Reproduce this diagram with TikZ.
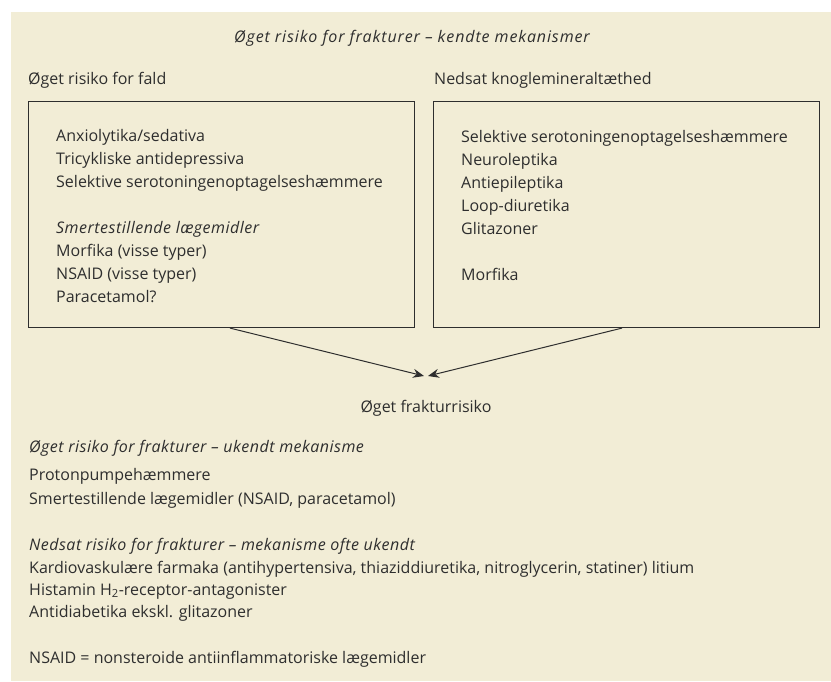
\documentclass[tikz,border=0pt]{standalone}
\usepackage{fontspec}
\setmainfont{Open Sans}
\usetikzlibrary{arrows.meta}
\definecolor{paper}{HTML}{F2EDD6}
\definecolor{ink}{HTML}{2E2E2E}
\newcommand{\slant}{\itshape\addfontfeature{LetterSpace=3}}

\begin{document}
\begin{tikzpicture}[x=1pt,y=-1pt,>={Stealth[length=11pt,width=9pt]},draw=ink]
	\tikzstyle{item}=[anchor=base west,inner sep=0pt,text=ink,font=\fontsize{16}{23}\selectfont]
	\tikzstyle{centred}=[item,anchor=base]
	\tikzstyle{box}=[draw=ink,line width=1.1pt,anchor=north west,minimum width=386pt,minimum height=226pt,inner sep=0pt]
	
	% Paper and margins
	\useasboundingbox (0,0) rectangle (831,681);
	\fill[paper] (11,12) rectangle (831,681);
	
	% Heading and column titles
	\node[centred] (title) at (412,42) {\itshape\addfontfeature{LetterSpace=5.5}Øget risiko for frakturer – kendte mekanismer};
	\node[item] (fall) at (28,84) {Øget risiko for fald};
	\node[item] (bone) at (434,84) {Nedsat knoglemineraltæthed};
	
	% The two boxes
	\node[box] (LB) at (28,101) {};
	\node[box] (RB) at (433,101) {};
	
	% Left box contents
	\foreach \i/\txt in {0/{Anxiolytika/sedativa},1/Tricykliske antidepressiva,2/Selektive serotoningenoptagelseshæmmere,4/{\slant Smertestillende lægemidler},5/Morfika (visse typer),6/NSAID (visse typer),7/Paracetamol?}
	\node[item] (L-\i) at (56,141+23*\i) {\txt};
	
	% Right box contents
	\foreach \i/\txt in {0/Selektive serotoningenoptagelseshæmmere,1/Neuroleptika,2/Antiepileptika,3/Loop-diuretika,4/Glitazoner,6/Morfika}
	\node[item] (R-\i) at (461,142+23*\i) {\txt};
	
	% Both boxes lead to the result
	\coordinate (L-out) at ([xshift=202pt]LB.south west);
	\coordinate (R-out) at ([xshift=189pt]RB.south west);
	\coordinate (tip-L) at (424,376);
	\coordinate (tip-R) at (428,376);
	\draw[->,line width=1pt] (L-out) -- (tip-L);
	\draw[->,line width=1pt] (R-out) -- (tip-R);
	\node[centred] (result) at (426,412) {Øget frakturrisiko};
	
	% Lower part
	\node[item] (unknown) at (29,452) {\slant Øget risiko for frakturer – ukendt mekanisme};
	\node[item] (ppi) at (29,480) {Protonpumpehæmmere};
	\node[item] (pain) at (29,504) {Smertestillende lægemidler (NSAID, paracetamol)};
	\node[item] (lower) at (29,550) {\slant Nedsat risiko for frakturer – mekanisme ofte ukendt};
	\node[item] (cardio) at (29,573) {Kardiovaskulære farmaka (antihypertensiva, thiaziddiuretika, nitroglycerin, statiner) litium};
	\node[item] (hist) at (29,595) {Histamin H\textsubscript{2}-receptor-antagonister};
	\node[item] (diab) at (29,617) {Antidiabetika ekskl. glitazoner};
	\node[item] (note) at (29,663) {NSAID = nonsteroide antiinflammatoriske lægemidler};
\end{tikzpicture}
\end{document}
